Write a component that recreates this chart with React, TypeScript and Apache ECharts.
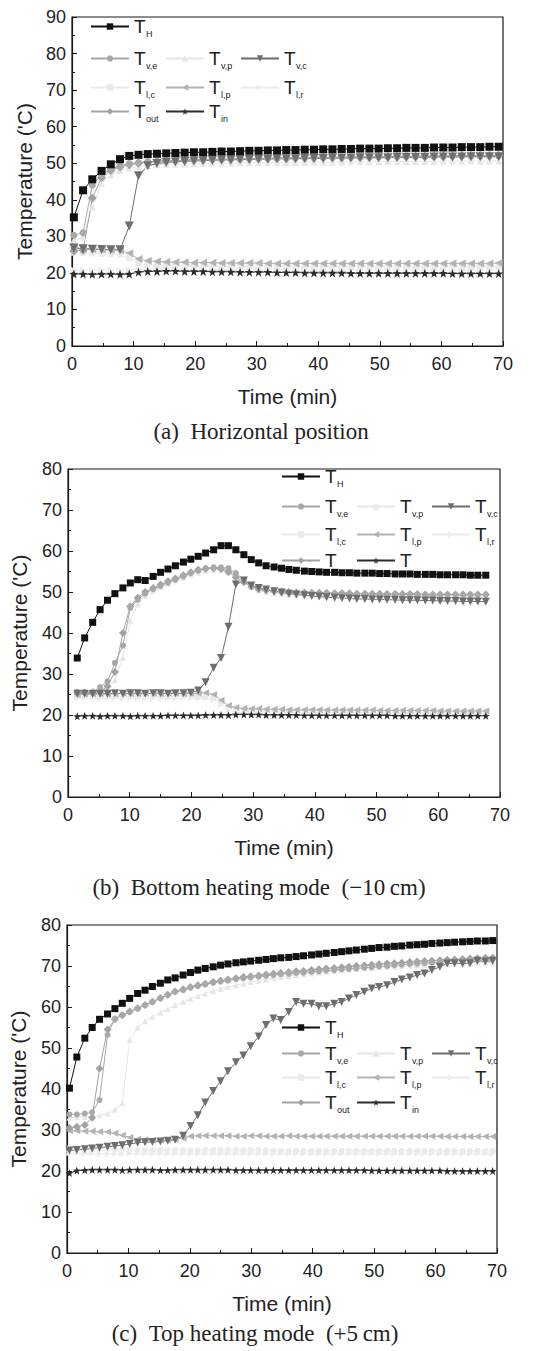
import React, { useEffect, useRef } from "react";
import * as echarts from "echarts";

// ---------- time axes (min) ----------
const timeA = [0.3, 1.8, 3.3, 4.8, 6.3, 7.8, 9.3, 10.8, 12.3, 13.8, 15.3, 16.8, 18.3, 19.8, 21.3, 22.8, 24.3, 25.8, 27.3, 28.8, 30.3, 31.8, 33.3, 34.8, 36.3, 37.8, 39.3, 40.8, 42.3, 43.8, 45.3, 46.8, 48.3, 49.8, 51.3, 52.8, 54.3, 55.8, 57.3, 58.8, 60.3, 61.8, 63.3, 64.8, 66.3, 67.8, 69.3];
const timeB = [1.5, 2.7, 4.0, 5.2, 6.4, 7.6, 8.9, 10.1, 11.3, 12.5, 13.8, 15.0, 16.2, 17.4, 18.7, 19.9, 21.1, 22.3, 23.6, 24.8, 26.0, 27.2, 28.5, 29.7, 30.9, 32.1, 33.4, 34.6, 35.8, 37.0, 38.3, 39.5, 40.7, 41.9, 43.2, 44.4, 45.6, 46.8, 48.1, 49.3, 50.5, 51.7, 53.0, 54.2, 55.4, 56.6, 57.9, 59.1, 60.3, 61.5, 62.8, 64.0, 65.2, 66.4, 67.7];
const timeC = [0.4, 1.6, 2.9, 4.1, 5.3, 6.6, 7.8, 9.0, 10.2, 11.5, 12.7, 13.9, 15.2, 16.4, 17.6, 18.9, 20.1, 21.3, 22.5, 23.8, 25.0, 26.2, 27.5, 28.7, 29.9, 31.2, 32.4, 33.6, 34.8, 36.1, 37.3, 38.5, 39.8, 41.0, 42.2, 43.5, 44.7, 45.9, 47.1, 48.4, 49.6, 50.8, 52.1, 53.3, 54.5, 55.8, 57.0, 58.2, 59.4, 60.7, 61.9, 63.1, 64.4, 65.6, 66.8, 68.1, 69.3];

// ---------- (a) Horizontal position ----------
const TH_A = [35.2, 42.6, 45.6, 47.9, 49.7, 51.1, 52.0, 52.3, 52.5, 52.6, 52.7, 52.8, 52.9, 53.0, 53.0, 53.1, 53.2, 53.2, 53.3, 53.4, 53.4, 53.5, 53.5, 53.6, 53.6, 53.7, 53.7, 53.8, 53.8, 53.9, 53.9, 54.0, 54.0, 54.0, 54.1, 54.1, 54.2, 54.2, 54.2, 54.3, 54.3, 54.3, 54.4, 54.4, 54.4, 54.5, 54.5];
const TVE_A = [30.3, 31.0, 44.0, 46.8, 48.4, 49.3, 49.9, 50.2, 50.4, 50.5, 50.6, 50.7, 50.8, 50.9, 50.9, 51.0, 51.0, 51.1, 51.1, 51.2, 51.2, 51.3, 51.3, 51.3, 51.4, 51.4, 51.4, 51.5, 51.5, 51.5, 51.6, 51.6, 51.6, 51.7, 51.7, 51.7, 51.7, 51.8, 51.8, 51.8, 51.8, 51.9, 51.9, 51.9, 51.9, 52.0, 52.0];
const TVP_A = [29.0, 29.8, 38.0, 44.5, 46.8, 48.0, 48.7, 49.1, 49.4, 49.6, 49.7, 49.8, 49.8, 49.9, 49.9, 50.0, 50.0, 50.0, 50.1, 50.1, 50.1, 50.2, 50.2, 50.2, 50.2, 50.3, 50.3, 50.3, 50.3, 50.4, 50.4, 50.4, 50.4, 50.4, 50.5, 50.5, 50.5, 50.5, 50.5, 50.5, 50.6, 50.6, 50.6, 50.6, 50.6, 50.6, 50.6];
const TVC_A = [26.8, 26.6, 26.5, 26.4, 26.3, 26.3, 32.8, 46.6, 49.3, 49.9, 50.2, 50.4, 50.5, 50.6, 50.7, 50.8, 50.9, 50.9, 51.0, 51.0, 51.1, 51.1, 51.2, 51.2, 51.2, 51.3, 51.3, 51.3, 51.4, 51.4, 51.4, 51.5, 51.5, 51.5, 51.5, 51.6, 51.6, 51.6, 51.6, 51.7, 51.7, 51.7, 51.7, 51.8, 51.8, 51.8, 51.8];
const TLC_A = [25.5, 25.4, 25.3, 25.2, 25.1, 25.0, 24.0, 22.6, 22.2, 22.0, 21.9, 21.9, 21.8, 21.8, 21.8, 21.8, 21.8, 21.8, 21.8, 21.8, 21.8, 21.8, 21.8, 21.8, 21.8, 21.8, 21.8, 21.8, 21.8, 21.8, 21.8, 21.8, 21.8, 21.8, 21.8, 21.8, 21.8, 21.8, 21.8, 21.8, 21.8, 21.8, 21.8, 21.8, 21.8, 21.8, 21.8];
const TLP_A = [27.0, 26.6, 26.5, 26.4, 26.3, 26.2, 25.4, 23.8, 23.3, 23.1, 23.0, 22.9, 22.9, 22.8, 22.8, 22.8, 22.7, 22.7, 22.7, 22.7, 22.7, 22.6, 22.6, 22.6, 22.6, 22.6, 22.6, 22.6, 22.6, 22.6, 22.6, 22.6, 22.6, 22.6, 22.6, 22.6, 22.6, 22.6, 22.6, 22.6, 22.6, 22.6, 22.6, 22.6, 22.6, 22.6, 22.7];
const TLR_A = [20.8, 20.8, 20.8, 20.8, 20.8, 20.8, 20.8, 20.9, 20.9, 20.9, 20.9, 20.9, 20.9, 20.9, 20.9, 20.9, 20.9, 20.9, 20.8, 20.8, 20.8, 20.8, 20.8, 20.8, 20.8, 20.8, 20.8, 20.8, 20.8, 20.8, 20.8, 20.8, 20.8, 20.8, 20.8, 20.8, 20.8, 20.8, 20.8, 20.8, 20.8, 20.8, 20.8, 20.8, 20.8, 20.8, 20.8];
const TOUT_A = [26.0, 26.2, 40.5, 46.0, 48.0, 49.0, 49.6, 50.0, 50.3, 50.5, 50.6, 50.7, 50.8, 50.9, 51.0, 51.0, 51.1, 51.1, 51.2, 51.2, 51.3, 51.3, 51.4, 51.4, 51.5, 51.5, 51.5, 51.6, 51.6, 51.6, 51.7, 51.7, 51.7, 51.8, 51.8, 51.8, 51.9, 51.9, 51.9, 52.0, 52.0, 52.0, 52.1, 52.1, 52.1, 52.2, 52.2];
const TIN_A = [19.7, 19.7, 19.6, 19.7, 19.7, 19.6, 19.7, 20.2, 20.4, 20.4, 20.5, 20.5, 20.4, 20.4, 20.4, 20.3, 20.3, 20.3, 20.2, 20.2, 20.2, 20.2, 20.1, 20.1, 20.1, 20.0, 20.0, 20.0, 20.0, 20.0, 19.9, 19.9, 19.9, 19.9, 19.9, 19.9, 19.9, 19.9, 19.9, 19.9, 19.9, 19.8, 19.8, 19.8, 19.8, 19.8, 19.8];

// ---------- (b) Bottom heating mode ----------
const TH_B = [33.9, 38.8, 42.6, 45.7, 48.0, 49.6, 51.0, 52.2, 53.0, 52.8, 53.8, 54.8, 55.6, 56.4, 57.3, 58.0, 58.7, 59.5, 60.3, 61.3, 61.3, 60.3, 59.1, 57.9, 57.1, 56.4, 56.1, 55.8, 55.5, 55.3, 55.1, 55.0, 54.9, 54.8, 54.8, 54.7, 54.7, 54.6, 54.6, 54.6, 54.5, 54.5, 54.4, 54.4, 54.4, 54.3, 54.3, 54.3, 54.2, 54.2, 54.2, 54.2, 54.1, 54.1, 54.1];
const TVE_B = [25.6, 25.6, 25.7, 26.8, 28.2, 32.7, 36.9, 46.1, 48.1, 49.6, 50.7, 51.5, 52.3, 53.0, 53.8, 54.6, 55.2, 55.8, 56.0, 56.0, 55.8, 54.6, 53.0, 51.6, 50.9, 50.5, 50.2, 50.0, 49.9, 49.8, 49.8, 49.7, 49.7, 49.6, 49.6, 49.6, 49.5, 49.5, 49.5, 49.5, 49.4, 49.4, 49.4, 49.4, 49.4, 49.3, 49.3, 49.3, 49.3, 49.3, 49.3, 49.3, 49.3, 49.3, 49.3];
const TVP_B = [25.2, 25.3, 25.5, 25.9, 26.5, 28.5, 34.0, 43.0, 47.0, 49.0, 50.2, 51.2, 52.0, 52.8, 53.5, 54.2, 54.7, 55.1, 55.3, 55.3, 55.0, 54.0, 52.5, 51.3, 50.5, 50.0, 49.7, 49.5, 49.4, 49.3, 49.2, 49.2, 49.1, 49.1, 49.0, 49.0, 49.0, 48.9, 48.9, 48.9, 48.9, 48.8, 48.8, 48.8, 48.8, 48.8, 48.8, 48.8, 48.8, 48.8, 48.8, 48.8, 48.8, 48.8, 48.8];
const TVC_B = [25.2, 25.2, 25.1, 25.2, 25.2, 25.3, 25.2, 25.3, 25.3, 25.2, 25.3, 25.3, 25.2, 25.3, 25.3, 25.4, 26.0, 28.0, 31.5, 33.9, 41.5, 51.8, 52.8, 51.6, 51.0, 50.6, 50.2, 49.9, 49.6, 49.4, 49.2, 49.0, 48.9, 48.7, 48.6, 48.5, 48.4, 48.3, 48.3, 48.2, 48.2, 48.1, 48.1, 48.0, 48.0, 48.0, 47.9, 47.9, 47.8, 47.8, 47.8, 47.7, 47.7, 47.7, 47.6];
const TLC_B = [24.6, 24.6, 24.6, 24.6, 24.6, 24.6, 24.6, 24.6, 24.6, 24.6, 24.6, 24.6, 24.6, 24.6, 24.6, 24.6, 24.6, 24.5, 24.2, 23.2, 22.2, 21.7, 21.5, 21.4, 21.3, 21.3, 21.2, 21.2, 21.2, 21.1, 21.1, 21.1, 21.1, 21.1, 21.1, 21.1, 21.1, 21.1, 21.1, 21.1, 21.1, 21.1, 21.1, 21.1, 21.1, 21.1, 21.1, 21.1, 21.1, 21.1, 21.0, 21.0, 21.0, 21.0, 21.0];
const TLP_B = [25.0, 25.1, 25.1, 25.2, 25.1, 25.2, 25.3, 25.2, 25.2, 25.3, 25.3, 25.2, 25.3, 25.3, 25.2, 25.3, 25.3, 25.4, 25.0, 23.6, 22.3, 21.8, 21.6, 21.5, 21.5, 21.4, 21.4, 21.4, 21.3, 21.3, 21.3, 21.3, 21.3, 21.2, 21.2, 21.2, 21.2, 21.2, 21.2, 21.2, 21.1, 21.1, 21.1, 21.1, 21.1, 21.1, 21.1, 21.1, 21.0, 21.0, 21.0, 21.0, 21.0, 21.0, 21.0];
const TLR_B = [24.0, 24.0, 24.0, 24.0, 24.0, 24.0, 24.0, 24.0, 24.0, 24.0, 24.0, 24.0, 24.0, 24.0, 24.0, 24.0, 24.0, 24.0, 23.6, 22.5, 21.2, 20.6, 20.6, 20.6, 20.6, 20.6, 20.6, 20.6, 20.6, 20.6, 20.6, 20.6, 20.6, 20.6, 20.6, 20.6, 20.6, 20.6, 20.6, 20.6, 20.6, 20.6, 20.6, 20.6, 20.6, 20.6, 20.6, 20.6, 20.6, 20.6, 20.6, 20.6, 20.6, 20.6, 20.6];
const TOUT_B = [25.4, 25.5, 25.5, 25.8, 27.0, 30.5, 40.0, 46.5, 48.6, 50.0, 51.0, 51.8, 52.6, 53.3, 54.1, 54.8, 55.4, 55.7, 55.8, 55.6, 54.9, 53.6, 52.4, 51.3, 50.7, 50.4, 50.2, 50.1, 50.0, 49.9, 49.9, 49.8, 49.8, 49.8, 49.7, 49.7, 49.7, 49.6, 49.6, 49.6, 49.6, 49.5, 49.5, 49.5, 49.5, 49.5, 49.4, 49.4, 49.4, 49.4, 49.4, 49.4, 49.4, 49.4, 49.4];
const TIN_B = [19.7, 19.8, 19.8, 19.7, 19.8, 19.8, 19.8, 19.7, 19.8, 19.8, 19.8, 19.8, 19.9, 19.9, 19.9, 19.9, 19.9, 20.0, 20.0, 20.0, 20.0, 20.1, 20.1, 20.1, 20.1, 20.0, 20.0, 20.0, 20.0, 20.0, 19.9, 19.9, 19.9, 19.9, 19.9, 19.9, 19.9, 19.9, 19.9, 19.9, 19.9, 19.9, 19.8, 19.8, 19.8, 19.8, 19.8, 19.8, 19.8, 19.8, 19.8, 19.8, 19.8, 19.8, 19.8];

// ---------- (c) Top heating mode ----------
const TH_C = [40.2, 47.8, 52.4, 55.0, 57.0, 58.3, 59.6, 60.9, 62.1, 63.3, 64.1, 65.0, 65.8, 66.6, 67.1, 67.8, 68.4, 69.0, 69.4, 69.8, 70.2, 70.5, 70.8, 71.0, 71.2, 71.4, 71.6, 71.8, 72.0, 72.1, 72.3, 72.5, 72.7, 72.9, 73.1, 73.3, 73.5, 73.7, 73.9, 74.1, 74.3, 74.5, 74.6, 74.8, 74.9, 75.1, 75.2, 75.3, 75.5, 75.6, 75.7, 75.8, 75.9, 76.0, 76.1, 76.1, 76.2];
const TVE_C = [33.8, 33.8, 34.0, 34.3, 37.3, 53.2, 57.2, 58.0, 58.8, 59.6, 60.4, 61.2, 62.1, 62.9, 63.7, 64.1, 64.7, 65.1, 65.5, 65.9, 66.2, 66.4, 66.8, 67.0, 67.2, 67.4, 67.6, 67.8, 68.0, 68.1, 68.3, 68.4, 68.6, 68.7, 68.9, 69.0, 69.2, 69.3, 69.4, 69.6, 69.7, 69.9, 70.0, 70.2, 70.3, 70.5, 70.6, 70.7, 70.8, 71.0, 71.1, 71.2, 71.3, 71.4, 71.5, 71.6, 71.7];
const TVP_C = [33.0, 33.1, 33.2, 33.4, 33.6, 34.0, 35.0, 36.5, 52.0, 55.0, 56.5, 57.6, 58.6, 59.5, 60.4, 61.2, 62.0, 62.7, 63.3, 63.9, 64.4, 64.9, 65.3, 65.7, 66.1, 66.4, 66.7, 67.0, 67.3, 67.5, 67.8, 68.0, 68.2, 68.4, 68.6, 68.8, 69.0, 69.1, 69.3, 69.4, 69.6, 69.7, 69.8, 69.9, 70.0, 70.1, 70.2, 70.3, 70.4, 70.5, 70.6, 70.6, 70.7, 70.7, 70.8, 70.8, 70.9];
const TVC_C = [25.0, 25.1, 25.3, 25.5, 25.7, 25.9, 26.1, 26.3, 26.6, 26.9, 27.0, 27.1, 27.2, 27.4, 27.6, 28.6, 31.0, 33.6, 36.7, 39.5, 41.9, 44.3, 46.5, 48.2, 50.4, 52.8, 55.6, 57.2, 56.8, 58.8, 61.2, 60.8, 60.8, 60.2, 60.2, 60.8, 61.2, 62.1, 62.9, 63.7, 64.5, 64.9, 65.3, 66.1, 66.7, 67.2, 67.8, 68.2, 69.0, 69.8, 70.6, 70.7, 70.6, 70.7, 71.3, 71.1, 71.3];
const TLC_C = [25.6, 25.6, 25.5, 25.5, 25.4, 25.4, 25.3, 25.3, 25.2, 25.2, 25.1, 25.1, 25.1, 25.1, 25.1, 25.1, 25.1, 25.1, 25.1, 25.1, 25.1, 25.1, 25.1, 25.1, 25.1, 25.1, 25.1, 25.0, 25.0, 25.0, 25.0, 25.0, 25.0, 25.0, 25.0, 25.0, 25.0, 25.0, 25.0, 25.0, 25.0, 25.0, 25.0, 25.0, 25.0, 25.0, 25.0, 25.0, 25.0, 25.0, 25.0, 25.0, 25.0, 25.0, 25.0, 25.0, 25.0];
const TLP_C = [29.8, 29.8, 29.7, 29.7, 29.6, 29.5, 29.2, 28.7, 28.2, 27.8, 27.6, 27.5, 27.5, 27.6, 27.7, 28.0, 28.5, 28.6, 28.6, 28.6, 28.6, 28.6, 28.5, 28.5, 28.6, 28.6, 28.5, 28.5, 28.5, 28.6, 28.5, 28.5, 28.5, 28.5, 28.5, 28.5, 28.5, 28.5, 28.5, 28.5, 28.5, 28.5, 28.5, 28.5, 28.5, 28.5, 28.5, 28.5, 28.5, 28.5, 28.4, 28.4, 28.4, 28.4, 28.4, 28.4, 28.4];
const TLR_C = [24.3, 24.3, 24.2, 24.2, 24.2, 24.2, 24.2, 24.2, 24.2, 24.2, 24.2, 24.2, 24.2, 24.2, 24.2, 24.2, 24.2, 24.2, 24.2, 24.2, 24.2, 24.2, 24.2, 24.2, 24.2, 24.2, 24.2, 24.2, 24.2, 24.2, 24.2, 24.2, 24.2, 24.2, 24.2, 24.2, 24.2, 24.2, 24.2, 24.2, 24.2, 24.2, 24.2, 24.2, 24.2, 24.2, 24.2, 24.2, 24.2, 24.2, 24.2, 24.2, 24.2, 24.2, 24.2, 24.2, 24.2];
const TOUT_C = [30.5, 30.8, 31.2, 33.0, 45.0, 54.5, 57.0, 58.0, 58.9, 59.7, 60.5, 61.3, 62.2, 63.0, 63.8, 64.3, 64.9, 65.3, 65.7, 66.1, 66.4, 66.7, 67.0, 67.3, 67.5, 67.7, 67.9, 68.1, 68.3, 68.5, 68.7, 68.8, 69.0, 69.2, 69.4, 69.5, 69.7, 69.8, 70.0, 70.1, 70.3, 70.4, 70.6, 70.7, 70.8, 71.0, 71.1, 71.2, 71.3, 71.4, 71.5, 71.6, 71.7, 71.8, 71.9, 72.0, 72.0];
const TIN_C = [19.5, 20.1, 20.2, 20.3, 20.3, 20.3, 20.3, 20.2, 20.3, 20.3, 20.3, 20.3, 20.2, 20.2, 20.3, 20.3, 20.3, 20.3, 20.3, 20.3, 20.3, 20.3, 20.2, 20.2, 20.2, 20.2, 20.2, 20.2, 20.2, 20.2, 20.2, 20.2, 20.2, 20.2, 20.2, 20.2, 20.2, 20.2, 20.2, 20.2, 20.1, 20.1, 20.1, 20.1, 20.1, 20.1, 20.1, 20.1, 20.1, 20.1, 20.0, 20.0, 20.0, 20.0, 20.0, 20.0, 20.0];

const LEGEND_ROWS = [["T_H"], ["T_v,e", "T_v,p", "T_v,c"], ["T_l,c", "T_l,p", "T_l,r"], ["T_out", "T_in"]];
const SUB: Record<string, string> = { "T_H": "H", "T_v,e": "v,e", "T_v,p": "v,p", "T_v,c": "v,c", "T_l,c": "l,c", "T_l,p": "l,p", "T_l,r": "l,r", "T_out": "out", "T_in": "in" };
const CAPTIONS = ["(a)\u2002Horizontal position", "(b)\u2002Bottom heating mode\u2002(\u221210\u2009cm)", "(c)\u2002Top heating mode\u2002(+5\u2009cm)"];
const X_TITLE = "Time (min)";
const Y_TITLE = "Temperature ('C)";

const DOWN_TRI = "path://M0,0 L10,0 L5,9 Z";
const LEFT_TRI = "path://M0,5 L9,0 L9,10 Z";
const RIGHT_TRI = "path://M0,0 L9,5 L0,10 Z";
const STAR = "path://M0,-10 L2.35,-3.24 L9.51,-3.09 L3.8,1.24 L5.88,8.09 L0,4 L-5.88,8.09 L-3.8,1.24 L-9.51,-3.09 L-2.35,-3.24 Z";

const STYLE: Record<string, { color: string; symbol: string; size: number }> = {
  "T_l,r": { color: "#ececec", symbol: RIGHT_TRI, size: 6 },
  "T_l,c": { color: "#eaeaea", symbol: "rect", size: 5 },
  "T_v,p": { color: "#e6e6e6", symbol: "triangle", size: 6 },
  "T_l,p": { color: "#b3b3b3", symbol: LEFT_TRI, size: 7 },
  "T_out": { color: "#a2a2a2", symbol: "diamond", size: 8 },
  "T_v,e": { color: "#a8a8a8", symbol: "circle", size: 6 },
  "T_in": { color: "#2c2c2c", symbol: STAR, size: 8 },
  "T_v,c": { color: "#6e6e6e", symbol: DOWN_TRI, size: 8 },
  "T_H": { color: "#111111", symbol: "rect", size: 7 },
};
const DRAW_ORDER = ["T_l,r", "T_l,c", "T_v,p", "T_l,p", "T_out", "T_v,e", "T_in", "T_v,c", "T_H"];

const PANELS = [
  { t: timeA, ymax: 90, v: { "T_H": TH_A, "T_v,e": TVE_A, "T_v,p": TVP_A, "T_v,c": TVC_A, "T_l,c": TLC_A, "T_l,p": TLP_A, "T_l,r": TLR_A, "T_out": TOUT_A, "T_in": TIN_A } as Record<string, number[]> },
  { t: timeB, ymax: 80, v: { "T_H": TH_B, "T_v,e": TVE_B, "T_v,p": TVP_B, "T_v,c": TVC_B, "T_l,c": TLC_B, "T_l,p": TLP_B, "T_l,r": TLR_B, "T_out": TOUT_B, "T_in": TIN_B } as Record<string, number[]> },
  { t: timeC, ymax: 80, v: { "T_H": TH_C, "T_v,e": TVE_C, "T_v,p": TVP_C, "T_v,c": TVC_C, "T_l,c": TLC_C, "T_l,p": TLP_C, "T_l,r": TLR_C, "T_out": TOUT_C, "T_in": TIN_C } as Record<string, number[]> },
];

// layout (pixels)
const GRIDS = [
  { left: 72, top: 17, width: 431, height: 329, caption: 431, capX: 261, yGap: 37 },
  { left: 68, top: 469, width: 432, height: 328, caption: 887, capX: 259, yGap: 38 },
  { left: 66, top: 925, width: 431, height: 328, caption: 1333, capX: 255, yGap: 38 },
];
const LEGEND_POS = [
  { left: 90, rows: [29, 61, 90, 114] },
  { left: 281, rows: [479, 509, 537, 563] },
  { left: 281, rows: [1030, 1056, 1080, 1105] },
];

const FONT = "Liberation Sans, Arial, sans-serif";

function buildOption() {
  const grid: any[] = [];
  const xAxis: any[] = [];
  const yAxis: any[] = [];
  const series: any[] = [];
  const legend: any[] = [];
  const graphic: any[] = [];

  PANELS.forEach((p, gi) => {
    const g = GRIDS[gi];
    grid.push({ left: g.left, top: g.top, width: g.width, height: g.height, show: true, borderColor: "#1a1a1a", borderWidth: 1.2, backgroundColor: "transparent" });
    xAxis.push({
      type: "value", gridIndex: gi, min: 0, max: 70, interval: 10,
      axisLine: { show: true, lineStyle: { color: "#1a1a1a", width: 1.2 } },
      axisTick: { show: true, inside: true, length: 5, lineStyle: { color: "#1a1a1a" } },
      minorTick: { show: true, splitNumber: 2, length: 3, lineStyle: { color: "#1a1a1a" } },
      splitLine: { show: false },
      axisLabel: { fontSize: 18, color: "#222", fontFamily: FONT, margin: 9 },
      name: X_TITLE, nameLocation: "middle", nameGap: 40,
      nameTextStyle: { fontSize: 21, color: "#222", fontFamily: FONT },
    });
    yAxis.push({
      type: "value", gridIndex: gi, min: 0, max: p.ymax, interval: 10,
      axisLine: { show: true, lineStyle: { color: "#1a1a1a", width: 1.2 } },
      axisTick: { show: true, inside: true, length: 5, lineStyle: { color: "#1a1a1a" } },
      minorTick: { show: true, splitNumber: 2, length: 3, lineStyle: { color: "#1a1a1a" } },
      splitLine: { show: false },
      axisLabel: { fontSize: 18, color: "#222", fontFamily: FONT, margin: 6 },
      name: Y_TITLE, nameLocation: "middle", nameGap: g.yGap,
      nameTextStyle: { fontSize: 21, color: "#222", fontFamily: FONT },
    });
    DRAW_ORDER.forEach((name) => {
      const st = STYLE[name];
      const vals = p.v[name];
      series.push({
        type: "line", name, xAxisIndex: gi, yAxisIndex: gi,
        data: p.t.map((x, i) => [x, vals[i]]),
        symbol: st.symbol, symbolSize: gi === 0 ? st.size + 1 : st.size, showSymbol: true,
        itemStyle: { color: st.color },
        lineStyle: { color: st.color, width: 1 },
        emphasis: { disabled: true },
      });
    });
    const lp = LEGEND_POS[gi];
    LEGEND_ROWS.forEach((row, ri) => {
      const noSub = gi === 1 && ri === 3;
      legend.push({
        show: true, selectedMode: false, orient: "horizontal", padding: 0,
        left: lp.left, top: lp.rows[ri] - 12,
        itemWidth: 38, itemHeight: 8, itemGap: 4,
        data: row,
        formatter: (n: string) => (noSub ? "{t|T}{s| }" : `{t|T}{s|${SUB[n]}}`),
        textStyle: {
          color: "#222",
          rich: {
            t: { fontSize: 19, lineHeight: 24, width: 12, color: "#222", fontFamily: FONT },
            s: { fontSize: 9, lineHeight: 10, width: 15, verticalAlign: "bottom", color: "#222", fontFamily: FONT },
          },
        },
      });
    });
    graphic.push({
      type: "text", x: g.capX, y: g.caption,
      style: { text: CAPTIONS[gi], font: "23px 'Liberation Serif', 'Times New Roman', serif", fill: "#222", align: "center", verticalAlign: "middle", textAlign: "center", textVerticalAlign: "middle" },
    });
  });

  return { animation: false, backgroundColor: "#ffffff", grid, xAxis, yAxis, series, legend, graphic };
}

export default function App() {
  const ref = useRef<HTMLDivElement>(null);
  useEffect(() => {
    if (!ref.current) return;
    const chart = echarts.init(ref.current, null, { renderer: "svg" });
    chart.setOption(buildOption() as any);
    return () => chart.dispose();
  }, []);
  return <div ref={ref} style={{ position: "absolute", left: 0, top: 0, width: 551, height: 1351, background: "#fff" }} />;
}
